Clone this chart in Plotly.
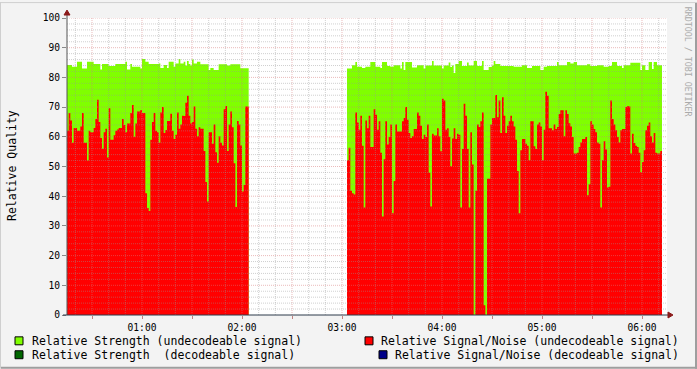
import plotly.graph_objects as go
import pandas as pd

# ---------------- data (1-minute samples) ----------------
DAY = "2024-01-01"
seg1_start = "00:15"
seg2_start = "03:03"

strength_undec_1 = [
    84.2, 84.2, 84.2, 83.6, 83.6, 83.6, 85.3, 85.3, 85.3, 83,
    83, 83, 85.3, 85.3, 85.3, 85.3, 84.5, 84.5, 84.5, 84.5,
    82.7, 84.5, 84.5, 84.5, 84.5, 83.8, 83.8, 83.8, 83.8, 84.5,
    84.5, 84.5, 84.5, 84.5, 84.5, 85.3, 82.7, 82.7, 84.5, 83.6,
    83.6, 83.6, 83.6, 83.6, 83, 86.2, 86.2, 85.3, 85.3, 84.5,
    84.5, 84.5, 84.5, 84.5, 84.5, 84.7, 83.2, 83.2, 84.2, 84.2,
    83.2, 85.3, 85.3, 85.3, 83.6, 84.7, 84.7, 86.2, 84.7, 84.7,
    85.3, 84, 85.5, 84.5, 84, 86, 84.7, 84.7, 85.3, 85.3,
    84.4, 84.4, 84.4, 84.4, 84.4, 82.5, 83.2, 83.2, 82.5, 82.5,
    82.5, 84.4, 84.4, 84.4, 84.4, 84.4, 84, 84, 84.4, 84.4,
    84.4, 84.4, 84.4, 84.4, 83.1, 83.1, 83.1, 83.1, 83.1,
]
snr_undec_1 = [
    62, 68, 65.5, 58, 63, 63, 62, 62, 63.5, 68,
    58, 58, 52, 62, 61.5, 61.5, 63, 66, 72.5, 65,
    59.6, 56, 61.5, 62.7, 53, 69.6, 59, 59, 60.5, 62,
    62.5, 63, 63, 66, 64, 61.5, 64.5, 64.5, 68, 70.7,
    60, 64.5, 68.5, 68.5, 69, 68, 68, 41, 36, 35,
    59, 65, 68, 62, 61.5, 58, 68.2, 70, 61.3, 62.3,
    65.3, 65.3, 67.8, 62, 59.3, 60.7, 68.2, 62.7, 64.1, 67.1,
    67, 71.5, 73.8, 67.1, 64.5, 65, 70.2, 62.7, 60.2, 63.2,
    62.7, 62.7, 55.2, 44.8, 38.2, 61.5, 61.5, 57.7, 64.1, 54.8,
    51.3, 60.2, 58, 57.1, 69.3, 70.4, 55.2, 64.1, 68.5, 63.2,
    51.1, 36.4, 65.3, 64.1, 57.1, 41.6, 43.8, 70.2, 70.2,
]
strength_undec_2 = [
    83, 83, 83, 84.1, 84.1, 85.2, 83.6, 83.6, 83.6, 83.2,
    83.2, 83.6, 83.6, 83.6, 85.2, 85.2, 85.2, 83.6, 83.6, 83.6,
    83.2, 85.2, 85.2, 85.2, 83.8, 83.8, 83.6, 83.6, 84.1, 84.1,
    84.1, 84.1, 83, 85.2, 82.5, 85.2, 85.2, 85.2, 85.2, 83.3,
    83.3, 83.3, 84.1, 84.1, 84.1, 84.1, 83, 84, 84, 84,
    84, 85.5, 84, 84, 84, 84, 84, 83, 84, 84,
    84, 85, 83.5, 84, 81.5, 84.5, 84.5, 85.5, 85.5, 83.8,
    83.8, 83.8, 85, 84, 84, 84, 85.5, 85.5, 83.8, 83.8,
    83.8, 85.5, 82.5, 82.5, 82.5, 83.5, 83.5, 84, 85.5, 84.5,
    84.5, 84.5, 83.8, 83.8, 83.8, 83.8, 83.8, 83.8, 83.8, 83.8,
    83.6, 83.6, 83.6, 83.6, 83.6, 84.1, 84.1, 84.1, 83.2, 83.2,
    83.2, 83.8, 83.8, 83.8, 83.8, 83.8, 82.5, 82.5, 83.6, 83.6,
    83.8, 83.8, 83.8, 83.8, 83.8, 83.8, 85.2, 84.1, 84.1, 84.1,
    84.1, 84.1, 85.2, 85.2, 84.7, 84.7, 85.2, 85.2, 84.1, 84.1,
    84.1, 84.1, 84.1, 84.1, 84.4, 84.4, 83.8, 83.8, 83.8, 83.8,
    84.1, 84.1, 84.1, 84.1, 83.6, 83.6, 83.6, 83.8, 83.8, 85.2,
    85.2, 85.2, 83.8, 83.8, 83.8, 83.2, 84.1, 84.1, 84.1, 84.1,
    84.9, 84.9, 84.9, 84.9, 84.9, 84.9, 82.5, 84.1, 84.1, 82.5,
    82.5, 85.2, 85.2, 82.8, 85.2, 85.2, 84.1, 84.1, 84.1,
]
snr_undec_2 = [
    52.1, 56.3, 41.8, 41, 40.6, 68.2, 64.8, 62.4, 67.1, 57,
    36.2, 65.5, 62.9, 67.1, 56.6, 56.6, 69.3, 67.4, 62.4, 65.2,
    54.6, 33.2, 52.4, 65.2, 57.4, 59.9, 64.1, 34.3, 45.1, 64.1,
    61.8, 61.8, 61.8, 65.2, 66.3, 70, 65.7, 61.3, 59.6, 60.2,
    62.6, 62.6, 68.2, 67.1, 63.7, 59.3, 60.7, 59.9, 64.1, 47.9,
    36.5, 61, 60.4, 60.4, 62.9, 60.2, 55.1, 72.8, 72.2, 62.4,
    62.9, 59.9, 50.1, 59.4, 62.9, 59.3, 61, 60.7, 36.2, 55.9,
    71.1, 67.1, 55.9, 36.2, 61.5, 50.7, 0, 41.8, 64.1, 63.3,
    65.2, 68.2, 3.3, 0, 45.9, 45.9, 64.1, 66.3, 66.3, 74.1,
    66.6, 72.2, 61.3, 73.3, 67.1, 61.3, 63.7, 65.2, 67.1, 65.2,
    63.5, 59, 48.5, 34.3, 55.5, 59.3, 59.3, 57.7, 57, 52.1,
    65.2, 65.2, 56.8, 55.9, 64.1, 64.8, 63.5, 52.1, 62.4, 75.2,
    73.8, 62.9, 62.9, 62.2, 64.1, 62.6, 63.3, 67.7, 68.9, 68.9,
    60.2, 68.9, 67.7, 64.6, 63.5, 59.9, 54.4, 54.4, 54.6, 56.6,
    58.1, 59.3, 59.3, 59.9, 40.3, 44, 65.2, 64.1, 62.6, 61.5,
    58.1, 57.7, 36.2, 52.1, 58.5, 55.7, 42.9, 43.2, 72.2, 66,
    64.1, 62.2, 59.9, 58.1, 62.2, 62.6, 62.6, 70, 70.4, 70.2,
    54.4, 61, 57.9, 57, 56.6, 54.6, 48.1, 51.5, 55.5, 62.2,
    63.7, 64.8, 60.2, 58.1, 61.3, 54.6, 54.4, 54.4, 55.2,
]

y_tick_vals = list(range(0, 101, 10))
x_range = ["00:15", "06:15"]

legend_labels = [
    "Relative Strength (undecodeable signal)",
    "Relative Strength  (decodeable signal)",
    "Relative Signal/Noise (undecodeable signal)",
    "Relative Signal/Noise (decodeable signal)",
]
GREEN_LIGHT = "#80FF00"
GREEN_DARK = "#006600"
RED = "#FF0000"
BLUE = "#000088"

# ---------------- geometry helpers ----------------
W, H = 697, 369
L, R, T, B = 67, 30, 16, 54
PW, PH = W - L - R, H - T - B


def xp(px):
    return (px - L) / PW


def yp(py):
    return (H - B - py) / PH


def t(hm):
    return pd.Timestamp(f"{DAY} {hm}")


def step_xy(start, vals):
    times = list(pd.date_range(t(start), periods=len(vals) + 1, freq="min"))
    return times, list(vals) + [vals[-1]]


fig = go.Figure()
segments = [(seg1_start, strength_undec_1, snr_undec_1),
            (seg2_start, strength_undec_2, snr_undec_2)]
for start, s, _ in segments:
    xs, ys = step_xy(start, s)
    fig.add_trace(go.Scatter(x=xs, y=ys, mode="lines", line=dict(width=0, shape="hv"),
                             fill="tozeroy", fillcolor=GREEN_LIGHT, showlegend=False,
                             hoverinfo="skip", name=legend_labels[0]))
for start, _, n in segments:
    xs, ys = step_xy(start, n)
    fig.add_trace(go.Scatter(x=xs, y=ys, mode="lines", line=dict(width=0, shape="hv"),
                             fill="tozeroy", fillcolor=RED, showlegend=False,
                             hoverinfo="skip", name=legend_labels[2]))

shapes = []
MINOR = "rgba(150,150,150,0.45)"
MAJOR = "rgba(215,120,120,0.5)"
DOT = "1px,1px"
# vertical grid
cur = t(x_range[0]) + pd.Timedelta(minutes=5)
end = t(x_range[1])
while cur < end:
    if cur.minute % 10 == 0:
        major = cur.minute % 30 == 0
        shapes.append(dict(type="line", xref="x", yref="y", x0=cur, x1=cur, y0=0, y1=100,
                           line=dict(color=MAJOR if major else MINOR, width=1, dash=DOT),
                           layer="above"))
    cur += pd.Timedelta(minutes=5)
# horizontal grid
for v in range(2, 101, 2):
    major = v % 10 == 0
    shapes.append(dict(type="line", xref="paper", yref="y", x0=0, x1=1, y0=v, y1=v,
                       line=dict(color=MAJOR if major else MINOR, width=1, dash=DOT),
                       layer="above"))
# axes
AXIS = "#2C3A4A"
ARROW = "#8B1A1A"
shapes.append(dict(type="line", xref="paper", yref="paper", x0=0, x1=0, y0=0, y1=yp(12),
                   line=dict(color="#555555", width=1), layer="above"))
shapes.append(dict(type="line", xref="paper", yref="paper", x0=xp(63), x1=xp(669), y0=0, y1=0,
                   line=dict(color=AXIS, width=1), layer="above"))
shapes.append(dict(type="path", xref="paper", yref="paper",
                   path=f"M {xp(64)} {yp(13)} L {xp(70)} {yp(13)} L {xp(67)} {yp(8)} Z",
                   fillcolor=ARROW, line=dict(color=ARROW, width=1), layer="above"))
shapes.append(dict(type="path", xref="paper", yref="paper",
                   path=f"M {xp(668)} {yp(312)} L {xp(668)} {yp(318)} L {xp(673)} {yp(315)} Z",
                   fillcolor=ARROW, line=dict(color=ARROW, width=1), layer="above"))
# outer 3D frame
shapes += [
    dict(type="line", xref="paper", yref="paper", x0=xp(0), x1=xp(W), y0=yp(0.5), y1=yp(0.5),
         line=dict(color="#CFCFCF", width=1)),
    dict(type="line", xref="paper", yref="paper", x0=xp(0.5), x1=xp(0.5), y0=yp(0), y1=yp(H),
         line=dict(color="#CFCFCF", width=1)),
    dict(type="line", xref="paper", yref="paper", x0=xp(1), x1=xp(W), y0=yp(H - 1), y1=yp(H - 1),
         line=dict(color="#9E9E9E", width=2)),
    dict(type="line", xref="paper", yref="paper", x0=xp(W - 1), x1=xp(W - 1), y0=yp(1), y1=yp(H),
         line=dict(color="#9E9E9E", width=2)),
]

annotations = []
MONO = "DejaVu Sans Mono"
LEG_FONT = dict(family=MONO, size=11.5, color="#000000")
legend_rows = [
    (15, 341, GREEN_LIGHT, legend_labels[0], 30, "left"),
    (15, 355, GREEN_DARK, legend_labels[1], 30, "left"),
    (365, 341, RED, legend_labels[2], 681, "right"),
    (379, 355, BLUE, legend_labels[3], 681, "right"),
]
for bx, by, col, txt, ax_, side in legend_rows:
    shapes.append(dict(type="rect", xref="paper", yref="paper",
                       x0=xp(bx), x1=xp(bx + 8), y0=yp(by - 4), y1=yp(by + 4),
                       fillcolor=col, line=dict(color="#000000", width=1)))
    annotations.append(dict(xref="paper", yref="paper", x=xp(ax_), y=yp(by), text=txt,
                            showarrow=False, xanchor=side, yanchor="middle", font=LEG_FONT))
annotations.append(dict(xref="paper", yref="paper", x=xp(12), y=yp(165), text="Relative Quality",
                        textangle=-90, showarrow=False, xanchor="center", yanchor="middle",
                        font=dict(family=MONO, size=11.5, color="#000000")))
annotations.append(dict(xref="paper", yref="paper", x=xp(688), y=yp(60), text="RRDTOOL / TOBI OETIKER",
                        textangle=90, showarrow=False, xanchor="center", yanchor="middle",
                        font=dict(family=MONO, size=8.3, color="#AAAAAA")))

fig.update_layout(
    width=W, height=H, margin=dict(l=L, r=R, t=T, b=B, pad=0),
    paper_bgcolor="#F3F3F3", plot_bgcolor="#FFFFFF",
    showlegend=False, shapes=shapes, annotations=annotations,
    xaxis=dict(type="date", range=[t(x_range[0]), t(x_range[1])], tickformat="%H:%M",
               tick0=t("01:00"), dtick=3600000, showgrid=False, zeroline=False, showline=False,
               ticks="outside", ticklen=3, tickcolor="#C08080",
               minor=dict(dtick=1800000, ticks="outside", ticklen=3, tickcolor="#C08080", showgrid=False),
               tickfont=dict(family=MONO, size=9.6, color="#000000"), fixedrange=True),
    yaxis=dict(range=[0, 100], tickvals=y_tick_vals, showgrid=False, zeroline=False, showline=False,
               ticks="outside", ticklen=4, tickcolor="#888888",
               tickfont=dict(family=MONO, size=9.6, color="#000000"), fixedrange=True),
)

fig.write_html("out.html")
